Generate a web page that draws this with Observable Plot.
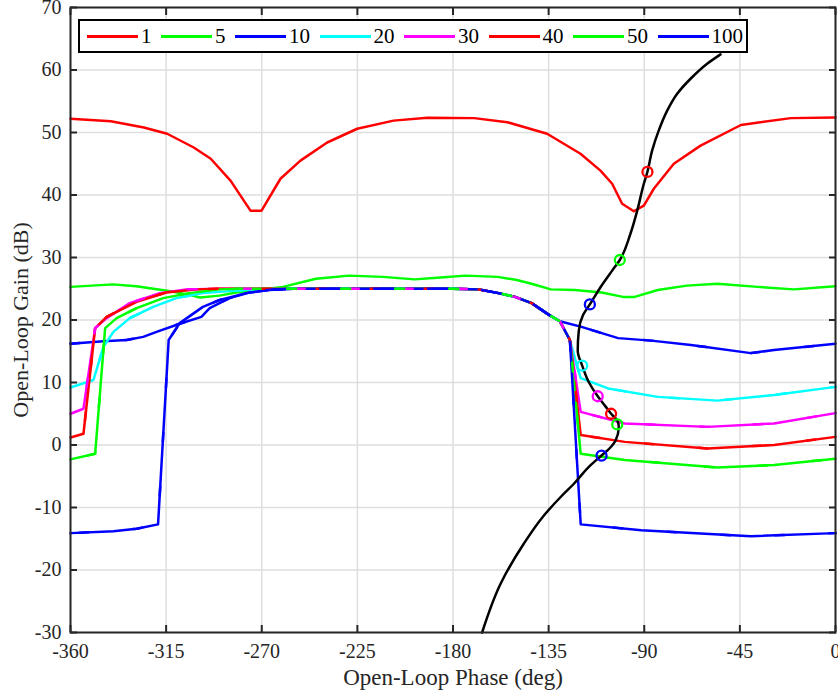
<!DOCTYPE html>
<html><head><meta charset="utf-8">
<script src="https://cdn.jsdelivr.net/npm/d3@7"></script>
<script src="https://cdn.jsdelivr.net/npm/@observablehq/plot@0.6"></script>
<style>
body{margin:0;background:#fff;}
#wrap{position:relative;width:838px;height:698px;}
#legend{position:absolute;left:78px;top:19px;width:670px;height:34px;box-sizing:border-box;border:2px solid #000;background:#fff;display:flex;align-items:center;padding-left:7px;font-family:"Liberation Serif",serif;font-size:21px;color:#000;}
#legend .it{display:flex;align-items:center;margin-right:9.5px;}
#legend .sw{width:51px;height:3px;margin-right:3px;}
svg text{font-family:"Liberation Serif",serif;}
</style></head>
<body><div id="wrap"><div id="chart"></div><div id="legend"></div></div>
<script>
const seriesNames = ["1","5","10","20","30","40","50","100"];
const seriesColors = ["#ff0000","#00ff00","#0000ff","#00ffff","#ff00ff","#ff0000","#00ff00","#0000ff"];
const xTicks = [-360,-315,-270,-225,-180,-135,-90,-45,0];
const yTicks = [-30,-20,-10,0,10,20,30,40,50,60,70];

const curve1 = [[-360,52.2],[-341,51.8],[-325.5,50.8],[-314.5,49.8],[-302,47.6],[-294,45.8],[-284.7,42.3],[-275.3,37.5],[-270.1,37.5],[-261.2,42.6],[-251.8,45.5],[-239.2,48.4],[-225.1,50.6],[-208,51.9],[-192,52.35],[-170,52.3],[-154.5,51.65],[-135.7,49.8],[-120,46.6],[-110.6,43.9],[-105.1,41.8],[-100.4,38.6],[-94.9,37.4],[-90.2,38.3],[-85.5,41],[-76.1,45],[-63.5,47.9],[-44.5,51.2],[-21,52.3],[0,52.4]];
const curve5 = [[-360,25.3],[-340,25.7],[-329,25.4],[-313,24.6],[-305,24.1],[-299,23.6],[-290,23.9],[-282,24.4],[-270,24.9],[-260,25.3],[-244.5,26.6],[-229,27.1],[-213,26.9],[-198,26.5],[-186,26.8],[-174,27.1],[-159,26.9],[-150,26.4],[-143,25.8],[-134,24.9],[-122.7,24.8],[-110,24.4],[-100,23.7],[-94.5,23.7],[-83.6,24.8],[-70,25.5],[-55.5,25.8],[-36.7,25.3],[-19.6,24.9],[0,25.4]];
// shared plateau and roll-off of the higher-index curves
const plateau = [[-225,25],[-180,25],[-168,24.9],[-158.6,24.3],[-150.8,23.7],[-143,22.7],[-135.2,20.9],[-129.7,19.8]];
const curve10L = [[-360,16.2],[-344.5,16.6],[-333.6,16.8],[-325.8,17.3],[-319.5,18.1],[-308.6,19.4],[-298.4,20.5],[-294.5,21.9],[-285.2,23.5],[-275.8,24.4],[-266.4,24.8],[-255,25]];
const curve10R = [[-119.5,18.9],[-110,17.9],[-102.3,17.1],[-86.7,16.7],[-68,16.0],[-39.8,14.7],[-28.9,15.2],[0,16.2]];
const curve20L = [[-360,9.2],[-349.2,10.4],[-344.5,15.7],[-339.8,18.1],[-332.1,20.3],[-321.1,22.1],[-310.2,23.5],[-297.7,24.3],[-282,24.7],[-270,25]];
const curve20R = [[-125,16.8],[-121.5,12.5],[-119.9,10.7],[-107,9.05],[-83.6,7.7],[-55.5,7.1],[-28.9,8.0],[0,9.3]];
const curve30L = [[-360,5.0],[-353.9,5.8],[-348.4,18.7],[-343,20.3],[-332.1,22.7],[-318,24.3],[-305.5,24.9],[-290,25]];
const curve30R = [[-125,16.8],[-119.9,5.3],[-99.2,3.45],[-60.2,2.9],[-28.9,3.45],[0,5.1]];
const curve40L = [[-360,1.2],[-353.9,1.8],[-348.4,18.7],[-343,20.5],[-328.9,22.9],[-315,24.4],[-300,24.9],[-290,25]];
const curve40R = [[-125,16.8],[-119.9,1.6],[-99.2,0.5],[-60.2,-0.55],[-28.9,0],[0,1.3]];
const curve50L = [[-360,-2.3],[-348.4,-1.4],[-343.7,18.7],[-338.3,20.3],[-328.9,21.9],[-316.4,23.5],[-303.9,24.3],[-290,24.9],[-280,25]];
const curve50R = [[-125,16.8],[-119.9,-1.4],[-99.2,-2.4],[-55.5,-3.6],[-28.9,-3.2],[0,-2.2]];
const curve100L = [[-360,-14.1],[-339.8,-13.8],[-328.9,-13.4],[-318.8,-12.7],[-313.8,16.8],[-308.6,19.5],[-297.7,22.1],[-289.8,23.2],[-277.3,24.3],[-265,24.9],[-255,25]];
const curve100R = [[-125,16.8],[-119.9,-12.7],[-91.4,-13.65],[-39.8,-14.6],[0,-14.1]];

const locusPhase = [-166.3,-157.6,-146.7,-137.5,-129,-123.1,-115.5,-110.1,-106.5,-103.5,-102.0,-102.5,-105.6,-108.5,-111.9,-116,-119.2,-121.3,-120.8,-118.8,-115.6,-110.6,-105.1,-101.5,-96.5,-93.3,-90.2,-88.6,-86.3,-83.2,-79.2,-74.5,-68.2,-60.4,-54.1];
const locusGain  = [-30,-22.2,-15.8,-11.4,-8.2,-6.2,-3.3,-1.68,-0.6,0.72,2.85,3.8,5.0,6.3,7.8,10,12.7,15.1,18.3,20.8,22.5,25.25,27.9,29.6,33.8,37.5,41.8,43.6,47.1,50.3,53.5,56.2,58.6,61.0,62.5];
const markerPhase = [-88.5,-101.5,-115.6,-119.2,-111.9,-105.6,-102.7,-110.1];
const markerGain  = [43.7,29.6,22.5,12.7,7.8,5.0,3.3,-1.7];

const curves = [
  curve1, curve5,
  [...curve10L, ...plateau, ...curve10R],
  [...curve20L, ...plateau, ...curve20R],
  [...curve30L, ...plateau, ...curve30R],
  [...curve40L, ...plateau, ...curve40R],
  [...curve50L, ...plateau, ...curve50R],
  [...curve100L, ...plateau, ...curve100R]
];
const lineData = [];
curves.forEach((c, i) => c.forEach(([p, g]) => lineData.push({series: seriesNames[i], idx: i, color: seriesColors[i], phase: p, gain: g})));
const locus = locusPhase.map((p, i) => ({phase: p, gain: locusGain[i]}));
const markers = markerPhase.map((p, i) => ({phase: p, gain: markerGain[i], color: seriesColors[i]}));

const overlays = seriesNames.slice(2).map((s, k) =>
  Plot.line(lineData.filter(d => d.series === s), {x: "phase", y: "gain", stroke: "color", strokeWidth: 2.5, strokeDasharray: "9 45", strokeDashoffset: k * 9})
);

const font = '"Liberation Serif", serif';
const fmt = d => String(d);
const chart = Plot.plot({
  width: 838, height: 698,
  marginLeft: 70, marginRight: 3, marginTop: 7, marginBottom: 66,
  x: {domain: [-360, 0]},
  y: {domain: [-30, 70]},
  color: {type: "identity"},
  style: {fontFamily: font, color: "#262626", background: "#fff"},
  marks: [
    Plot.gridX(xTicks, {stroke: "#dedede", strokeOpacity: 1, strokeWidth: 1.5}),
    Plot.gridY(yTicks, {stroke: "#dedede", strokeOpacity: 1, strokeWidth: 1.5}),
    Plot.line(lineData, {x: "phase", y: "gain", z: "series", stroke: "color", strokeWidth: 2.5}),
    ...overlays,
    Plot.line(locus, {x: "phase", y: "gain", stroke: "#000", strokeWidth: 2.5, curve: "monotone-y"}),
    Plot.dot(markers, {x: "phase", y: "gain", r: 5, stroke: "color", strokeWidth: 2.3, fill: "none"}),
    Plot.frame({stroke: "#262626", strokeWidth: 2}),
    Plot.axisX(xTicks, {anchor: "bottom", tickSize: -7, tickPadding: 18, fontSize: 20, fontFamily: font, tickFormat: fmt, label: null, stroke: "#262626", strokeWidth: 2}),
    Plot.axisX(xTicks, {anchor: "top", tickSize: -7, tickFormat: () => "", label: null, stroke: "#262626", strokeWidth: 2}),
    Plot.axisY(yTicks, {anchor: "left", tickSize: -7, tickPadding: 16, fontSize: 20, fontFamily: font, tickFormat: fmt, label: null, stroke: "#262626", strokeWidth: 2}),
    Plot.axisY(yTicks, {anchor: "right", tickSize: -7, tickFormat: () => "", label: null, stroke: "#262626", strokeWidth: 2}),
    Plot.text(["Open-Loop Phase (deg)"], {frameAnchor: "bottom", dy: 52, fontSize: 23, fontFamily: font, fill: "#262626", textAnchor: "middle"}),
    Plot.text(["Open-Loop Gain (dB)"], {frameAnchor: "left", dx: -50, rotate: -90, fontSize: 22, fontFamily: font, fill: "#262626", textAnchor: "middle"})
  ]
});
document.getElementById("chart").appendChild(chart);

const leg = document.getElementById("legend");
seriesNames.forEach((n, i) => {
  const it = document.createElement("div"); it.className = "it";
  const sw = document.createElement("div"); sw.className = "sw"; sw.style.background = seriesColors[i];
  const tx = document.createElement("span"); tx.textContent = n;
  it.appendChild(sw); it.appendChild(tx); leg.appendChild(it);
});
</script></body></html>
